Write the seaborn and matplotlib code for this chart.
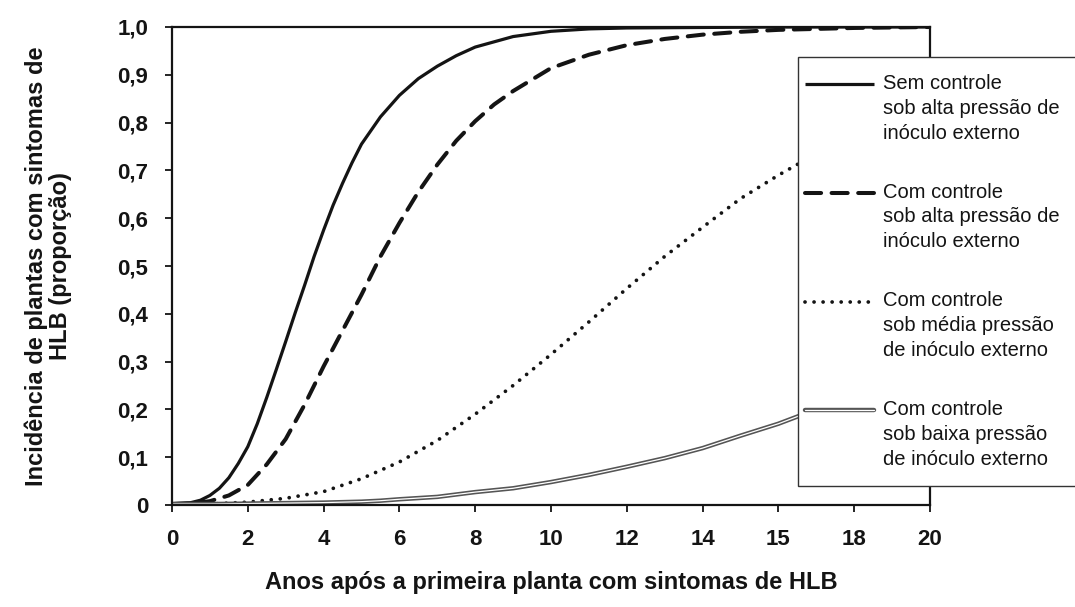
import numpy as np
import pandas as pd
import matplotlib
matplotlib.use("Agg")
import matplotlib.pyplot as plt
import matplotlib.patheffects as pe
from matplotlib.legend_handler import HandlerLine2D
import seaborn as sns

# curvas (anos, proporcao)
anos_sem = [0, 0.5, 0.75, 1.0, 1.25, 1.5, 1.75, 2.0, 2.25, 2.5, 2.75, 3.0,
            3.25, 3.5, 3.75, 4.0, 4.25, 4.5, 4.75, 5.0, 5.5, 6.0, 6.5, 7.0,
            7.5, 8.0, 9.0, 10.0, 11.0, 12.0, 14.0, 16.0, 18.0, 20.0]
sem_alta = [0.003, 0.005, 0.01, 0.02, 0.035, 0.057, 0.087, 0.122, 0.17, 0.225,
            0.283, 0.342, 0.402, 0.46, 0.52, 0.575, 0.627, 0.673, 0.716, 0.755,
            0.812, 0.857, 0.892, 0.918, 0.94, 0.958, 0.98, 0.991, 0.996, 0.998,
            0.999, 1.0, 1.0, 1.0]

anos_com_alta = [0, 0.5, 1.0, 1.5, 2.0, 2.5, 3.0, 3.5, 4.0, 4.5, 5.0, 5.5, 6.0,
                 6.5, 7.0, 7.5, 8.0, 8.5, 9.0, 10.0, 11.0, 12.0, 13.0, 14.0,
                 15.0, 16.0, 18.0, 20.0]
com_alta = [0.002, 0.003, 0.008, 0.02, 0.042, 0.085, 0.138, 0.21, 0.29, 0.365,
            0.44, 0.52, 0.59, 0.655, 0.712, 0.762, 0.803, 0.838, 0.866, 0.914,
            0.942, 0.962, 0.975, 0.984, 0.99, 0.994, 0.998, 1.0]

anos_media = [0, 1, 2, 3, 4, 5, 6, 7, 8, 9, 10, 11, 12, 13, 14, 15, 16, 17,
              18, 19, 20]
com_media = [0.0, 0.002, 0.006, 0.014, 0.028, 0.055, 0.09, 0.135, 0.19, 0.25,
             0.315, 0.383, 0.453, 0.52, 0.581, 0.641, 0.69, 0.735, 0.775,
             0.81, 0.84]

anos_baixa = [0, 1, 2, 3, 4, 5, 5.5, 6, 7, 8, 9, 10, 11, 12, 13, 14, 15, 16,
              17, 18, 19, 20]
com_baixa = [0.002, 0.002, 0.003, 0.004, 0.005, 0.007, 0.009, 0.012, 0.017,
             0.027, 0.035, 0.048, 0.063, 0.08, 0.098, 0.119, 0.145, 0.17,
             0.2, 0.23, 0.26, 0.29]

legendas = [
    "Sem controle\nsob alta pressão de\ninóculo externo",
    "Com controle\nsob alta pressão de\ninóculo externo",
    "Com controle\nsob média pressão\nde inóculo externo",
    "Com controle\nsob baixa pressão\nde inóculo externo",
]

xticks = [0, 2, 4, 6, 8, 10, 12, 14, 16, 18, 20]
xtick_labels = ["0", "2", "4", "6", "8", "10", "12", "14", "15", "18", "20"]
yticks = [0, 0.1, 0.2, 0.3, 0.4, 0.5, 0.6, 0.7, 0.8, 0.9, 1.0]
ytick_labels = ["0", "0,1", "0,2", "0,3", "0,4", "0,5", "0,6", "0,7", "0,8",
                "0,9", "1,0"]

sns.set_style("ticks")
plt.rcParams["font.family"] = ["Liberation Sans", "DejaVu Sans"]

INK = "#141414"


class FirstLineHandler(HandlerLine2D):
    """put the legend line next to the first text line"""

    def __init__(self, dy, dx, **kw):
        super().__init__(**kw)
        self.dy = dy
        self.dx = dx

    def create_artists(self, legend, orig_handle, xdescent, ydescent,
                       width, height, fontsize, trans):
        arts = super().create_artists(legend, orig_handle, xdescent, ydescent,
                                      width, height, fontsize, trans)
        for a in arts:
            yd = np.asarray(a.get_ydata(), dtype=float) + self.dy
            xd = np.asarray(a.get_xdata(), dtype=float).copy()
            if len(xd) >= 2:
                xd[0] -= self.dx
            a.set_data(xd, yd)
        return arts


fig = plt.figure(figsize=(10.75, 6.07), dpi=100)
ax = fig.add_axes([172 / 1075, 102 / 607, 758 / 1075, 478 / 607])

sns.lineplot(x=anos_sem, y=sem_alta, ax=ax, color=INK, lw=2.3,
             solid_capstyle="butt")
sns.lineplot(x=anos_com_alta, y=com_alta, ax=ax, color=INK, lw=2.9,
             linestyle=(0, (4.0, 2.6)), dash_capstyle="round")
sns.lineplot(x=anos_media, y=com_media, ax=ax, color=INK, lw=2.7,
             linestyle=(0, (0.01, 2.4)), dash_capstyle="round")
sns.lineplot(x=anos_baixa, y=com_baixa, ax=ax, color="white", lw=0.9,
             path_effects=[pe.Stroke(linewidth=3.2, foreground="#555555"),
                           pe.Normal()])

ax.set_xlim(0, 20)
ax.set_ylim(0, 1.0)
ax.set_xticks(xticks)
ax.set_xticklabels(xtick_labels)
ax.set_yticks(yticks)
ax.set_yticklabels(ytick_labels)

for s in ax.spines.values():
    s.set_visible(True)
    s.set_linewidth(1.6)
    s.set_color(INK)

ax.tick_params(axis="both", direction="out", length=5, width=1.3,
               color=INK, labelsize=16, labelcolor=INK)
ax.tick_params(axis="x", pad=12)
ax.tick_params(axis="y", pad=12)
for lab in ax.get_xticklabels() + ax.get_yticklabels():
    lab.set_fontweight("bold")

ax.set_xlabel("Anos após a primeira planta com sintomas de HLB",
              fontsize=17, fontweight="bold", color=INK)
ax.xaxis.set_label_coords(0.5, -0.138)
ax.set_ylabel("Incidência de plantas com sintomas de\nHLB (proporção)",
              fontsize=17, fontweight="bold", color=INK, linespacing=1.05)
ax.yaxis.set_label_coords(-0.132, 0.5)

handles = list(ax.lines[:4])
handler = FirstLineHandler(dy=17.6, dx=7.5)
leg = fig.legend(handles, legendas, loc="upper left",
                 bbox_to_anchor=(798 / 1075, 1 - 57 / 607),
                 bbox_transform=fig.transFigure, borderaxespad=0,
                 fontsize=14.5, frameon=True, fancybox=False, framealpha=1,
                 edgecolor="#333333", borderpad=0.85, labelspacing=2.0,
                 handlelength=2.9, handletextpad=0.45,
                 handler_map={h: handler for h in handles})
leg.get_frame().set_linewidth(1.0)
for t in leg.get_texts():
    t.set_color(INK)
    t.set_linespacing(1.38)

fig.savefig("out.png", dpi=100)
